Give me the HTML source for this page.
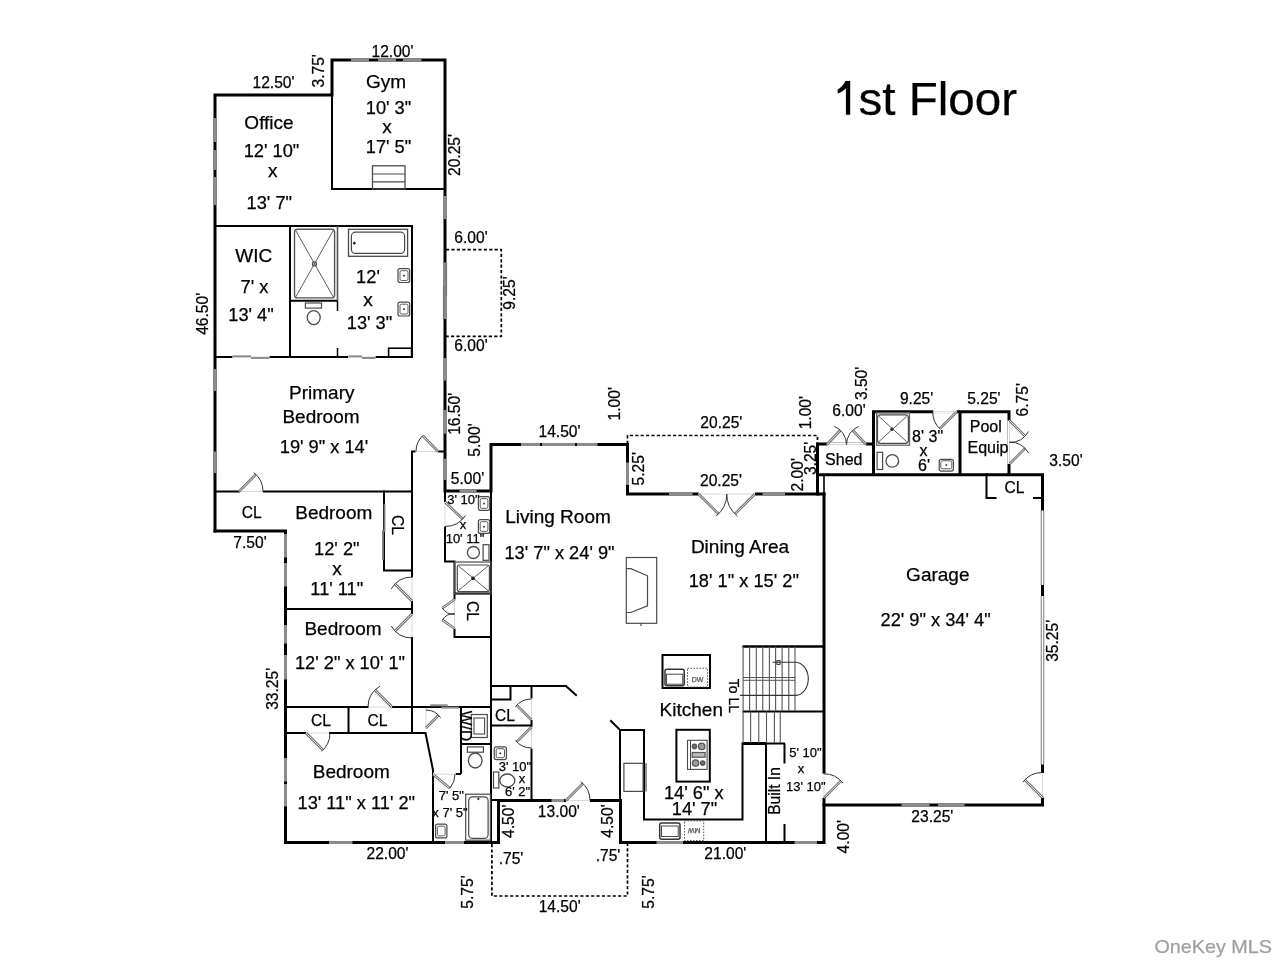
<!DOCTYPE html>
<html><head><meta charset="utf-8">
<style>
html,body{margin:0;padding:0;background:#fff;}
body{width:1280px;height:960px;overflow:hidden;}
svg{display:block;will-change:transform;filter:blur(0.3px);}
text{font-family:"Liberation Sans",sans-serif;stroke:currentColor;stroke-width:0.25px;}
</style></head>
<body>
<svg width="1280" height="960" viewBox="0 0 1280 960">
<rect width="1280" height="960" fill="#fff"/>
<path d="M850.2,81.1 H845.4 C843.5,85.5 840.5,87.8 837.7,89.4 V93.6 C840.6,92.4 843.6,90.6 845.9,88.4 V114.8 H850.2 Z" fill="#000" stroke="#000" stroke-width="0"/>
<polyline points="215,531 215,95 332,95 332,60 445,60 445,491 491,491 491,444.5 627.5,444.5 627.5,494 824,494" fill="none" stroke="#000" stroke-width="3" stroke-linecap="square" stroke-linejoin="miter"/>
<polyline points="215,531 285.5,531 285.5,842.5 498.5,842.5 498.5,800.5 620.5,800.5 620.5,842.5 824,842.5 824,494" fill="none" stroke="#000" stroke-width="3" stroke-linecap="square" stroke-linejoin="miter"/>
<polyline points="817.5,474.8 1042.5,474.8 1042.5,805 824,805" fill="none" stroke="#000" stroke-width="3" stroke-linecap="square" stroke-linejoin="miter"/>
<polyline points="817.5,494 817.5,444 873.5,444 873.5,411.8 1009,411.8 1009,474" fill="none" stroke="#000" stroke-width="3" stroke-linecap="square" stroke-linejoin="miter"/>
<polyline points="332,95 332,189 445,189" fill="none" stroke="#000" stroke-width="2" stroke-linecap="square" stroke-linejoin="miter"/>
<polyline points="215,226 412,226 412,357" fill="none" stroke="#000" stroke-width="2" stroke-linecap="square" stroke-linejoin="miter"/>
<line x1="290" y1="226" x2="290" y2="357" stroke="#000" stroke-width="2" stroke-linecap="butt"/>
<line x1="215" y1="357" x2="412" y2="357" stroke="#000" stroke-width="2" stroke-linecap="butt"/>
<line x1="337.5" y1="300.8" x2="337.5" y2="311" stroke="#000" stroke-width="1.5" stroke-linecap="butt"/>
<line x1="337.5" y1="348" x2="337.5" y2="357" stroke="#000" stroke-width="1.5" stroke-linecap="butt"/>
<line x1="215" y1="491.5" x2="412" y2="491.5" stroke="#000" stroke-width="2" stroke-linecap="butt"/>
<polyline points="415.5,451.5 412,451.5 412,733" fill="none" stroke="#000" stroke-width="2" stroke-linecap="square" stroke-linejoin="miter"/>
<line x1="438" y1="451.5" x2="445" y2="451.5" stroke="#000" stroke-width="2" stroke-linecap="butt"/>
<polyline points="384,491.5 384,570.5 412,570.5" fill="none" stroke="#000" stroke-width="2" stroke-linecap="square" stroke-linejoin="miter"/>
<line x1="285.5" y1="609" x2="412" y2="609" stroke="#000" stroke-width="2" stroke-linecap="butt"/>
<line x1="285.5" y1="707" x2="491" y2="707" stroke="#000" stroke-width="2" stroke-linecap="butt"/>
<line x1="348.5" y1="707" x2="348.5" y2="733" stroke="#000" stroke-width="2" stroke-linecap="butt"/>
<polyline points="285.5,733 425.5,733 433,770 433,842.5" fill="none" stroke="#000" stroke-width="2" stroke-linecap="square" stroke-linejoin="miter"/>
<line x1="461" y1="707" x2="461" y2="774" stroke="#000" stroke-width="2" stroke-linecap="butt"/>
<line x1="433" y1="774" x2="461" y2="774" stroke="#000" stroke-width="2" stroke-linecap="butt"/>
<line x1="461" y1="744" x2="491" y2="744" stroke="#000" stroke-width="2" stroke-linecap="butt"/>
<line x1="491" y1="491" x2="491" y2="842.5" stroke="#000" stroke-width="2" stroke-linecap="butt"/>
<polyline points="445,491 445,561.5 454.5,561.5 454.5,637 491,637" fill="none" stroke="#000" stroke-width="2" stroke-linecap="square" stroke-linejoin="miter"/>
<line x1="454.5" y1="593.5" x2="491" y2="593.5" stroke="#000" stroke-width="2" stroke-linecap="butt"/>
<polyline points="491,686 566,686 576,695" fill="none" stroke="#000" stroke-width="2" stroke-linecap="square" stroke-linejoin="miter"/>
<polyline points="491,699.5 510.5,699.5 510.5,686" fill="none" stroke="#000" stroke-width="2" stroke-linecap="square" stroke-linejoin="miter"/>
<line x1="531.5" y1="686" x2="531.5" y2="800" stroke="#000" stroke-width="2" stroke-linecap="butt"/>
<line x1="491" y1="725.5" x2="531.5" y2="725.5" stroke="#000" stroke-width="2" stroke-linecap="butt"/>
<line x1="491" y1="800" x2="498.5" y2="800" stroke="#000" stroke-width="2" stroke-linecap="butt"/>
<polyline points="611,721 620,730 644,730 644,819.5 742.5,819.5 742.5,743.5" fill="none" stroke="#000" stroke-width="2" stroke-linecap="square" stroke-linejoin="miter"/>
<line x1="620" y1="730" x2="620" y2="800.5" stroke="#000" stroke-width="2" stroke-linecap="butt"/>
<line x1="742.5" y1="646.5" x2="824" y2="646.5" stroke="#000" stroke-width="2.5" stroke-linecap="butt"/>
<line x1="742.5" y1="711.5" x2="824" y2="711.5" stroke="#000" stroke-width="2" stroke-linecap="butt"/>
<line x1="742.5" y1="743.5" x2="766" y2="743.5" stroke="#000" stroke-width="3" stroke-linecap="butt"/>
<line x1="766" y1="743.5" x2="785" y2="743.5" stroke="#000" stroke-width="2" stroke-linecap="butt"/>
<line x1="766" y1="743.5" x2="766" y2="842.5" stroke="#000" stroke-width="2" stroke-linecap="butt"/>
<line x1="784.5" y1="743.5" x2="784.5" y2="763.5" stroke="#000" stroke-width="2" stroke-linecap="butt"/>
<line x1="784.5" y1="824" x2="784.5" y2="842.5" stroke="#000" stroke-width="2" stroke-linecap="butt"/>
<line x1="873.5" y1="444" x2="873.5" y2="474" stroke="#000" stroke-width="3" stroke-linecap="butt"/>
<line x1="960" y1="411.8" x2="960" y2="474" stroke="#000" stroke-width="3" stroke-linecap="butt"/>
<line x1="824" y1="474" x2="824" y2="494" stroke="#000" stroke-width="1.6" stroke-linecap="butt"/>
<polyline points="995.5,498 986.5,498 986.5,474" fill="none" stroke="#000" stroke-width="2" stroke-linecap="square" stroke-linejoin="miter"/>
<line x1="1033" y1="498" x2="1042.5" y2="498" stroke="#000" stroke-width="2" stroke-linecap="butt"/>
<line x1="351" y1="60" x2="369" y2="60" stroke="#8c8c8c" stroke-width="3"/>
<line x1="378" y1="60" x2="396" y2="60" stroke="#8c8c8c" stroke-width="3"/>
<line x1="403" y1="60" x2="421.5" y2="60" stroke="#8c8c8c" stroke-width="3"/>
<line x1="215" y1="118" x2="215" y2="142" stroke="#8c8c8c" stroke-width="3"/>
<line x1="215" y1="150" x2="215" y2="170" stroke="#8c8c8c" stroke-width="3"/>
<line x1="215" y1="177" x2="215" y2="205" stroke="#8c8c8c" stroke-width="3"/>
<line x1="445" y1="196" x2="445" y2="219" stroke="#8c8c8c" stroke-width="3"/>
<line x1="445" y1="262.5" x2="445" y2="319" stroke="#8c8c8c" stroke-width="3"/>
<line x1="445" y1="358" x2="445" y2="380.6" stroke="#8c8c8c" stroke-width="3"/>
<line x1="445" y1="410" x2="445" y2="433.75" stroke="#8c8c8c" stroke-width="3"/>
<line x1="445" y1="458.75" x2="445" y2="480" stroke="#8c8c8c" stroke-width="3"/>
<line x1="215" y1="369" x2="215" y2="391" stroke="#8c8c8c" stroke-width="3"/>
<line x1="215" y1="451.5" x2="215" y2="473" stroke="#8c8c8c" stroke-width="3"/>
<line x1="459.5" y1="491" x2="476.5" y2="491" stroke="#8c8c8c" stroke-width="3"/>
<line x1="285.5" y1="534" x2="285.5" y2="557.5" stroke="#8c8c8c" stroke-width="3"/>
<line x1="285.5" y1="563" x2="285.5" y2="586.5" stroke="#8c8c8c" stroke-width="3"/>
<line x1="285.5" y1="625" x2="285.5" y2="643.5" stroke="#8c8c8c" stroke-width="3"/>
<line x1="285.5" y1="655" x2="285.5" y2="679.5" stroke="#8c8c8c" stroke-width="3"/>
<line x1="285.5" y1="758" x2="285.5" y2="781.5" stroke="#8c8c8c" stroke-width="3"/>
<line x1="285.5" y1="784" x2="285.5" y2="806.5" stroke="#8c8c8c" stroke-width="3"/>
<line x1="329" y1="842.5" x2="352.5" y2="842.5" stroke="#8c8c8c" stroke-width="3"/>
<line x1="445" y1="842.5" x2="464" y2="842.5" stroke="#8c8c8c" stroke-width="3"/>
<line x1="521" y1="444.5" x2="540" y2="444.5" stroke="#8c8c8c" stroke-width="3"/>
<line x1="542" y1="444.5" x2="575" y2="444.5" stroke="#8c8c8c" stroke-width="3"/>
<line x1="577" y1="444.5" x2="597.5" y2="444.5" stroke="#8c8c8c" stroke-width="3"/>
<line x1="627.5" y1="462.5" x2="627.5" y2="485" stroke="#8c8c8c" stroke-width="3"/>
<line x1="669" y1="494" x2="692.5" y2="494" stroke="#8c8c8c" stroke-width="3"/>
<line x1="762.5" y1="494" x2="785" y2="494" stroke="#8c8c8c" stroke-width="3"/>
<line x1="656.5" y1="842.5" x2="683" y2="842.5" stroke="#8c8c8c" stroke-width="3"/>
<line x1="551.5" y1="800.5" x2="564" y2="800.5" stroke="#8c8c8c" stroke-width="3"/>
<line x1="794.5" y1="842.5" x2="817" y2="842.5" stroke="#8c8c8c" stroke-width="3"/>
<line x1="901.5" y1="805" x2="929.5" y2="805" stroke="#8c8c8c" stroke-width="3"/>
<line x1="938" y1="805" x2="964.5" y2="805" stroke="#8c8c8c" stroke-width="3"/>
<polyline points="446,249.7 501.3,249.7 501.3,336.3 446,336.3" fill="none" stroke="#000" stroke-width="1.7" stroke-linecap="butt" stroke-linejoin="miter" stroke-dasharray="3.2,2.2"/>
<polyline points="627.5,444 627.5,435.5 817.5,435.5 817.5,444" fill="none" stroke="#000" stroke-width="1.7" stroke-linecap="butt" stroke-linejoin="miter" stroke-dasharray="3.2,2.2"/>
<polyline points="491.9,844 491.9,896 627.5,896 627.5,844" fill="none" stroke="#000" stroke-width="1.7" stroke-linecap="butt" stroke-linejoin="miter" stroke-dasharray="3.2,2.2"/>
<line x1="240" y1="491.5" x2="263" y2="491.5" stroke="#fff" stroke-width="3"/>
<line x1="240" y1="491.5" x2="263" y2="491.5" stroke="#d8d8d8" stroke-width="1"/>
<line x1="415.5" y1="451.5" x2="438" y2="451.5" stroke="#fff" stroke-width="3"/>
<line x1="415.5" y1="451.5" x2="438" y2="451.5" stroke="#d8d8d8" stroke-width="1"/>
<line x1="412" y1="577.5" x2="412" y2="601" stroke="#fff" stroke-width="3"/>
<line x1="412" y1="577.5" x2="412" y2="601" stroke="#d8d8d8" stroke-width="1"/>
<line x1="412" y1="614" x2="412" y2="637" stroke="#fff" stroke-width="3"/>
<line x1="412" y1="614" x2="412" y2="637" stroke="#d8d8d8" stroke-width="1"/>
<line x1="368.5" y1="707" x2="392" y2="707" stroke="#fff" stroke-width="3"/>
<line x1="368.5" y1="707" x2="392" y2="707" stroke="#d8d8d8" stroke-width="1"/>
<line x1="306" y1="733" x2="329" y2="733" stroke="#fff" stroke-width="3"/>
<line x1="306" y1="733" x2="329" y2="733" stroke="#d8d8d8" stroke-width="1"/>
<line x1="445" y1="502" x2="445" y2="526.5" stroke="#fff" stroke-width="3"/>
<line x1="445" y1="502" x2="445" y2="526.5" stroke="#d8d8d8" stroke-width="1"/>
<line x1="454.5" y1="599.5" x2="454.5" y2="628.5" stroke="#fff" stroke-width="3"/>
<line x1="454.5" y1="599.5" x2="454.5" y2="628.5" stroke="#d8d8d8" stroke-width="1"/>
<line x1="531.5" y1="698.5" x2="531.5" y2="720" stroke="#fff" stroke-width="3"/>
<line x1="531.5" y1="698.5" x2="531.5" y2="720" stroke="#d8d8d8" stroke-width="1"/>
<line x1="531.5" y1="727" x2="531.5" y2="748.5" stroke="#fff" stroke-width="3"/>
<line x1="531.5" y1="727" x2="531.5" y2="748.5" stroke="#d8d8d8" stroke-width="1"/>
<line x1="566" y1="800.5" x2="590" y2="800.5" stroke="#fff" stroke-width="4"/>
<line x1="566" y1="800.5" x2="590" y2="800.5" stroke="#d8d8d8" stroke-width="1"/>
<line x1="698.6" y1="494" x2="754.9" y2="494" stroke="#fff" stroke-width="4"/>
<line x1="698.6" y1="494" x2="754.9" y2="494" stroke="#d8d8d8" stroke-width="1"/>
<line x1="827" y1="444.5" x2="866" y2="444.5" stroke="#fff" stroke-width="4"/>
<line x1="827" y1="444.5" x2="866" y2="444.5" stroke="#d8d8d8" stroke-width="1"/>
<line x1="933.3" y1="411.8" x2="956.7" y2="411.8" stroke="#fff" stroke-width="4"/>
<line x1="933.3" y1="411.8" x2="956.7" y2="411.8" stroke="#d8d8d8" stroke-width="1"/>
<line x1="1009.5" y1="420.5" x2="1009.5" y2="464" stroke="#fff" stroke-width="4"/>
<line x1="1009.5" y1="420.5" x2="1009.5" y2="464" stroke="#d8d8d8" stroke-width="1"/>
<line x1="824" y1="773.7" x2="824" y2="797.8" stroke="#fff" stroke-width="4"/>
<line x1="824" y1="773.7" x2="824" y2="797.8" stroke="#d8d8d8" stroke-width="1"/>
<line x1="1042.5" y1="773" x2="1042.5" y2="797.5" stroke="#fff" stroke-width="4"/>
<line x1="1042.5" y1="773" x2="1042.5" y2="797.5" stroke="#d8d8d8" stroke-width="1"/>
<line x1="425.9" y1="708" x2="425.9" y2="728" stroke="#fff" stroke-width="3"/>
<line x1="425.9" y1="708" x2="425.9" y2="728" stroke="#d8d8d8" stroke-width="1"/>
<line x1="433" y1="774.2" x2="455.7" y2="774.2" stroke="#fff" stroke-width="3"/>
<line x1="433" y1="774.2" x2="455.7" y2="774.2" stroke="#d8d8d8" stroke-width="1"/>
<line x1="348" y1="357" x2="375.5" y2="357" stroke="#fff" stroke-width="3"/>
<line x1="348" y1="357" x2="375.5" y2="357" stroke="#d8d8d8" stroke-width="1"/>
<line x1="232.5" y1="357" x2="269.5" y2="357" stroke="#fff" stroke-width="3"/>
<line x1="232.5" y1="357" x2="269.5" y2="357" stroke="#d8d8d8" stroke-width="1"/>
<line x1="239" y1="491.5" x2="255.97" y2="474.53" stroke="#6a6a6a" stroke-width="2.6"/>
<line x1="239" y1="491.5" x2="255.97" y2="474.53" stroke="#f4f4f4" stroke-width="0.9"/>
<path d="M253.78,472.59 A24,24 0 0 1 263.00,491.50" fill="none" stroke="#333" stroke-width="1"/>
<line x1="438" y1="451.5" x2="422.72" y2="435.67" stroke="#6a6a6a" stroke-width="2.6"/>
<line x1="438" y1="451.5" x2="422.72" y2="435.67" stroke="#f4f4f4" stroke-width="0.9"/>
<path d="M422.72,435.67 A22,22 0 0 0 416.00,451.50" fill="none" stroke="#333" stroke-width="1"/>
<line x1="412" y1="601" x2="395.03" y2="584.03" stroke="#6a6a6a" stroke-width="2.6"/>
<line x1="412" y1="601" x2="395.03" y2="584.03" stroke="#f4f4f4" stroke-width="0.9"/>
<path d="M391.22,589.00 A24,24 0 0 1 412.00,577.00" fill="none" stroke="#333" stroke-width="1"/>
<line x1="412" y1="614" x2="395.03" y2="630.97" stroke="#6a6a6a" stroke-width="2.6"/>
<line x1="412" y1="614" x2="395.03" y2="630.97" stroke="#f4f4f4" stroke-width="0.9"/>
<path d="M391.22,626.00 A24,24 0 0 0 412.00,638.00" fill="none" stroke="#333" stroke-width="1"/>
<line x1="392" y1="707" x2="375.03" y2="690.03" stroke="#6a6a6a" stroke-width="2.6"/>
<line x1="392" y1="707" x2="375.03" y2="690.03" stroke="#f4f4f4" stroke-width="0.9"/>
<path d="M380.00,686.22 A24,24 0 0 0 368.00,707.00" fill="none" stroke="#333" stroke-width="1"/>
<line x1="306" y1="733" x2="322.97" y2="749.97" stroke="#6a6a6a" stroke-width="2.6"/>
<line x1="306" y1="733" x2="322.97" y2="749.97" stroke="#f4f4f4" stroke-width="0.9"/>
<path d="M321.43,751.39 A24,24 0 0 0 330.00,733.00" fill="none" stroke="#333" stroke-width="1"/>
<line x1="445" y1="502" x2="462.62" y2="519.02" stroke="#6a6a6a" stroke-width="2.6"/>
<line x1="445" y1="502" x2="462.62" y2="519.02" stroke="#f4f4f4" stroke-width="0.9"/>
<path d="M465.55,515.34 A24.5,24.5 0 0 1 445.00,526.50" fill="none" stroke="#333" stroke-width="1"/>
<line x1="454.5" y1="599.5" x2="442.21" y2="608.10" stroke="#6a6a6a" stroke-width="2.6"/>
<line x1="454.5" y1="599.5" x2="442.21" y2="608.10" stroke="#f4f4f4" stroke-width="0.9"/>
<path d="M442.21,608.10 A15,15 0 0 0 454.50,614.50" fill="none" stroke="#333" stroke-width="1"/>
<line x1="454.5" y1="628.5" x2="442.21" y2="619.90" stroke="#6a6a6a" stroke-width="2.6"/>
<line x1="454.5" y1="628.5" x2="442.21" y2="619.90" stroke="#f4f4f4" stroke-width="0.9"/>
<path d="M442.21,619.90 A15,15 0 0 1 454.50,613.50" fill="none" stroke="#333" stroke-width="1"/>
<line x1="531.5" y1="720" x2="516.65" y2="705.15" stroke="#6a6a6a" stroke-width="2.6"/>
<line x1="531.5" y1="720" x2="516.65" y2="705.15" stroke="#f4f4f4" stroke-width="0.9"/>
<path d="M515.41,706.50 A21,21 0 0 1 531.50,699.00" fill="none" stroke="#333" stroke-width="1"/>
<line x1="531.5" y1="727" x2="516.65" y2="741.85" stroke="#6a6a6a" stroke-width="2.6"/>
<line x1="531.5" y1="727" x2="516.65" y2="741.85" stroke="#f4f4f4" stroke-width="0.9"/>
<path d="M515.41,740.50 A21,21 0 0 0 531.50,748.00" fill="none" stroke="#333" stroke-width="1"/>
<line x1="566" y1="800.5" x2="582.97" y2="783.53" stroke="#6a6a6a" stroke-width="2.6"/>
<line x1="566" y1="800.5" x2="582.97" y2="783.53" stroke="#f4f4f4" stroke-width="0.9"/>
<path d="M580.78,781.59 A24,24 0 0 1 590.00,800.50" fill="none" stroke="#333" stroke-width="1"/>
<line x1="698.6" y1="494" x2="718.54" y2="513.94" stroke="#6a6a6a" stroke-width="2.6"/>
<line x1="698.6" y1="494" x2="718.54" y2="513.94" stroke="#f4f4f4" stroke-width="0.9"/>
<path d="M715.96,516.22 A28.2,28.2 0 0 0 726.80,494.00" fill="none" stroke="#333" stroke-width="1"/>
<line x1="754.9" y1="494" x2="734.96" y2="513.94" stroke="#6a6a6a" stroke-width="2.6"/>
<line x1="754.9" y1="494" x2="734.96" y2="513.94" stroke="#f4f4f4" stroke-width="0.9"/>
<path d="M737.54,516.22 A28.2,28.2 0 0 1 726.70,494.00" fill="none" stroke="#333" stroke-width="1"/>
<line x1="827" y1="444.5" x2="840.30" y2="430.24" stroke="#6a6a6a" stroke-width="2.6"/>
<line x1="827" y1="444.5" x2="840.30" y2="430.24" stroke="#f4f4f4" stroke-width="0.9"/>
<path d="M834.30,426.42 A19.5,19.5 0 0 1 846.50,444.50" fill="none" stroke="#333" stroke-width="1"/>
<line x1="866" y1="444.5" x2="852.70" y2="430.24" stroke="#6a6a6a" stroke-width="2.6"/>
<line x1="866" y1="444.5" x2="852.70" y2="430.24" stroke="#f4f4f4" stroke-width="0.9"/>
<path d="M858.70,426.42 A19.5,19.5 0 0 0 846.50,444.50" fill="none" stroke="#333" stroke-width="1"/>
<line x1="956.7" y1="411.8" x2="939.73" y2="428.77" stroke="#6a6a6a" stroke-width="2.6"/>
<line x1="956.7" y1="411.8" x2="939.73" y2="428.77" stroke="#f4f4f4" stroke-width="0.9"/>
<path d="M939.73,428.77 A24,24 0 0 1 932.70,411.80" fill="none" stroke="#333" stroke-width="1"/>
<line x1="1009.5" y1="420.5" x2="1025.06" y2="436.06" stroke="#6a6a6a" stroke-width="2.6"/>
<line x1="1009.5" y1="420.5" x2="1025.06" y2="436.06" stroke="#f4f4f4" stroke-width="0.9"/>
<path d="M1028.55,431.50 A22,22 0 0 1 1009.50,442.50" fill="none" stroke="#333" stroke-width="1"/>
<line x1="1009.5" y1="464" x2="1025.06" y2="448.44" stroke="#6a6a6a" stroke-width="2.6"/>
<line x1="1009.5" y1="464" x2="1025.06" y2="448.44" stroke="#f4f4f4" stroke-width="0.9"/>
<path d="M1028.55,453.00 A22,22 0 0 0 1009.50,442.00" fill="none" stroke="#333" stroke-width="1"/>
<line x1="824" y1="797.8" x2="840.97" y2="780.83" stroke="#6a6a6a" stroke-width="2.6"/>
<line x1="824" y1="797.8" x2="840.97" y2="780.83" stroke="#f4f4f4" stroke-width="0.9"/>
<path d="M842.91,783.02 A24,24 0 0 0 824.00,773.80" fill="none" stroke="#333" stroke-width="1"/>
<line x1="1042.5" y1="797.5" x2="1024.82" y2="779.82" stroke="#6a6a6a" stroke-width="2.6"/>
<line x1="1042.5" y1="797.5" x2="1024.82" y2="779.82" stroke="#f4f4f4" stroke-width="0.9"/>
<path d="M1022.80,782.11 A25,25 0 0 1 1042.50,772.50" fill="none" stroke="#333" stroke-width="1"/>
<line x1="425.9" y1="728" x2="438.63" y2="715.27" stroke="#6a6a6a" stroke-width="2.6"/>
<line x1="425.9" y1="728" x2="438.63" y2="715.27" stroke="#f4f4f4" stroke-width="0.9"/>
<path d="M440.64,717.68 A18,18 0 0 0 425.90,710.00" fill="none" stroke="#333" stroke-width="1"/>
<line x1="433" y1="774.2" x2="449.85" y2="788.34" stroke="#6a6a6a" stroke-width="2.6"/>
<line x1="433" y1="774.2" x2="449.85" y2="788.34" stroke="#f4f4f4" stroke-width="0.9"/>
<path d="M449.85,788.34 A22,22 0 0 0 455.00,774.20" fill="none" stroke="#333" stroke-width="1"/>
<rect x="372.5" y="165.8" width="32.5" height="23.2" rx="0" fill="none" stroke="#4a4a4a" stroke-width="1.3"/>
<line x1="372.5" y1="174" x2="405" y2="174" stroke="#4a4a4a" stroke-width="1.2" stroke-linecap="butt"/>
<line x1="372.5" y1="181.8" x2="405" y2="181.8" stroke="#4a4a4a" stroke-width="1.2" stroke-linecap="butt"/>
<line x1="446.3" y1="263" x2="446.3" y2="295.6" stroke="#777" stroke-width="1.6" stroke-linecap="butt"/>
<line x1="443.7" y1="286.4" x2="443.7" y2="319" stroke="#777" stroke-width="1.6" stroke-linecap="butt"/>
<line x1="290" y1="300.8" x2="337.5" y2="300.8" stroke="#000" stroke-width="2" stroke-linecap="butt"/>
<line x1="337.5" y1="226" x2="337.5" y2="300.8" stroke="#555" stroke-width="1.6" stroke-linecap="butt"/>
<rect x="294.5" y="229.3" width="40.1" height="68.6" rx="3" fill="none" stroke="#555" stroke-width="1.4"/>
<line x1="296" y1="231" x2="333" y2="296.5" stroke="#4a4a4a" stroke-width="0.9" stroke-linecap="butt"/>
<line x1="333" y1="231" x2="296" y2="296.5" stroke="#4a4a4a" stroke-width="0.9" stroke-linecap="butt"/>
<circle cx="314.5" cy="263.9" r="2" fill="none" stroke="#4a4a4a" stroke-width="1.2"/>
<rect x="305.4" y="303" width="16.1" height="5.1" rx="0" fill="none" stroke="#4a4a4a" stroke-width="1.2"/>
<ellipse cx="313.7" cy="317.6" rx="6.5" ry="7" fill="none" stroke="#4a4a4a" stroke-width="1.3"/>
<rect x="348.5" y="229.3" width="59.1" height="27" rx="0" fill="none" stroke="#4a4a4a" stroke-width="1.3"/>
<rect x="351.4" y="232.2" width="53.2" height="21.2" rx="4" fill="none" stroke="#4a4a4a" stroke-width="1.2"/>
<circle cx="354.3" cy="243.2" r="1" fill="#222" stroke="#222" stroke-width="1"/>
<rect x="398" y="268.7" width="11.7" height="13.8" rx="2" fill="none" stroke="#4a4a4a" stroke-width="1.2"/>
<rect x="400" y="270.7" width="8" height="9.8" rx="1.5" fill="none" stroke="#4a4a4a" stroke-width="0.9"/>
<circle cx="404" cy="275.7" r="0.6" fill="#222" stroke="#222" stroke-width="0.8"/>
<rect x="398" y="302.2" width="11.7" height="13.8" rx="2" fill="none" stroke="#4a4a4a" stroke-width="1.2"/>
<rect x="400" y="304.2" width="8" height="9.8" rx="1.5" fill="none" stroke="#4a4a4a" stroke-width="0.9"/>
<circle cx="404" cy="309.2" r="0.6" fill="#222" stroke="#222" stroke-width="0.8"/>
<rect x="388.6" y="348.2" width="23" height="9" rx="0" fill="none" stroke="#000" stroke-width="1.6"/>
<line x1="232.5" y1="356.3" x2="251" y2="356.3" stroke="#8c8c8c" stroke-width="2" stroke-linecap="butt"/>
<line x1="251" y1="358" x2="269.5" y2="358" stroke="#8c8c8c" stroke-width="2" stroke-linecap="butt"/>
<line x1="348.5" y1="356.3" x2="362" y2="356.3" stroke="#8c8c8c" stroke-width="2" stroke-linecap="butt"/>
<line x1="362" y1="358" x2="375.5" y2="358" stroke="#8c8c8c" stroke-width="2" stroke-linecap="butt"/>
<line x1="384.5" y1="503.8" x2="384.5" y2="532" stroke="#7a7a7a" stroke-width="1.8" stroke-linecap="butt"/>
<line x1="383" y1="530" x2="383" y2="560" stroke="#7a7a7a" stroke-width="1.8" stroke-linecap="butt"/>
<rect x="478.4" y="496.6" width="11.3" height="13.7" rx="2" fill="none" stroke="#4a4a4a" stroke-width="1.2"/>
<rect x="480.2" y="498.6" width="7.7" height="9.7" rx="1.5" fill="none" stroke="#4a4a4a" stroke-width="0.9"/>
<circle cx="484" cy="503.6" r="0.6" fill="#222" stroke="#222" stroke-width="0.8"/>
<rect x="478.4" y="519.7" width="11.3" height="13.7" rx="2" fill="none" stroke="#4a4a4a" stroke-width="1.2"/>
<rect x="480.2" y="521.7" width="7.7" height="9.7" rx="1.5" fill="none" stroke="#4a4a4a" stroke-width="0.9"/>
<circle cx="484" cy="526.7" r="0.6" fill="#222" stroke="#222" stroke-width="0.8"/>
<rect x="483.1" y="544.7" width="5.9" height="15.6" rx="0" fill="none" stroke="#4a4a4a" stroke-width="1.2"/>
<circle cx="473.4" cy="552.5" r="6" fill="none" stroke="#4a4a4a" stroke-width="1.3"/>
<rect x="454.5" y="562" width="36.5" height="31.9" rx="0" fill="none" stroke="#4a4a4a" stroke-width="1.2"/>
<rect x="457.3" y="565" width="32.1" height="26.6" rx="2" fill="none" stroke="#4a4a4a" stroke-width="1.2"/>
<line x1="458.5" y1="566" x2="488" y2="590.5" stroke="#4a4a4a" stroke-width="0.9" stroke-linecap="butt"/>
<line x1="488" y1="566" x2="458.5" y2="590.5" stroke="#4a4a4a" stroke-width="0.9" stroke-linecap="butt"/>
<circle cx="473" cy="578.3" r="1.4" fill="#222" stroke="#222" stroke-width="1"/>
<rect x="471.3" y="714.5" width="16" height="23" rx="0" fill="none" stroke="#4a4a4a" stroke-width="1.2"/>
<rect x="474" y="718" width="10.6" height="16" rx="0" fill="none" stroke="#4a4a4a" stroke-width="1.1"/>
<line x1="430.2" y1="705.3" x2="447.7" y2="705.3" stroke="#8c8c8c" stroke-width="2" stroke-linecap="butt"/>
<line x1="441.3" y1="707.6" x2="458.8" y2="707.6" stroke="#8c8c8c" stroke-width="2" stroke-linecap="butt"/>
<rect x="467.4" y="746.9" width="16" height="5.3" rx="0" fill="none" stroke="#4a4a4a" stroke-width="1.2"/>
<ellipse cx="475.2" cy="760.5" rx="6.8" ry="7.5" fill="none" stroke="#4a4a4a" stroke-width="1.3"/>
<rect x="465.7" y="794.2" width="24.7" height="46" rx="0" fill="none" stroke="#4a4a4a" stroke-width="1.2"/>
<rect x="468.7" y="796.8" width="19.4" height="41.6" rx="4" fill="none" stroke="#4a4a4a" stroke-width="1.2"/>
<circle cx="478.4" cy="798.9" r="0.8" fill="#222" stroke="#222" stroke-width="0.8"/>
<rect x="435.6" y="824.2" width="11.3" height="13.7" rx="2" fill="none" stroke="#4a4a4a" stroke-width="1.2"/>
<rect x="437.4" y="826.2" width="7.7" height="9.7" rx="1.5" fill="none" stroke="#4a4a4a" stroke-width="0.9"/>
<rect x="494.3" y="746.9" width="12.1" height="12.7" rx="2" fill="none" stroke="#4a4a4a" stroke-width="1.2"/>
<rect x="496.2" y="748.7" width="8.3" height="9" rx="1.5" fill="none" stroke="#4a4a4a" stroke-width="0.9"/>
<circle cx="500.3" cy="753.3" r="0.6" fill="#222" stroke="#222" stroke-width="0.8"/>
<rect x="493.5" y="772" width="5.3" height="16" rx="0" fill="none" stroke="#4a4a4a" stroke-width="1.2"/>
<ellipse cx="507.3" cy="780.5" rx="7.5" ry="6.5" fill="none" stroke="#4a4a4a" stroke-width="1.3"/>
<rect x="626.3" y="557.5" width="30.4" height="65.8" rx="0" fill="none" stroke="#4a4a4a" stroke-width="1.2"/>
<polyline points="626.3,568.7 630.8,568.7 647.5,575.8 647.5,605.8 630.8,612.5 626.3,612.5" fill="none" stroke="#4a4a4a" stroke-width="1.2" stroke-linecap="butt" stroke-linejoin="miter"/>
<line x1="641" y1="623" x2="641" y2="626" stroke="#4a4a4a" stroke-width="1.2" stroke-linecap="butt"/>
<rect x="662.5" y="655" width="47.5" height="33" rx="0" fill="none" stroke="#000" stroke-width="2"/>
<rect x="665" y="669.2" width="19.2" height="16.6" rx="2" fill="none" stroke="#333" stroke-width="1.5"/>
<rect x="666.5" y="674.2" width="16.2" height="10" rx="0" fill="none" stroke="#4a4a4a" stroke-width="1"/>
<rect x="687.5" y="668.3" width="20" height="18.7" rx="0" fill="none" stroke="#555" stroke-width="1" stroke-dasharray="1.5,1.5"/>
<rect x="676.4" y="729.8" width="33.4" height="51.8" rx="0" fill="none" stroke="#000" stroke-width="2"/>
<rect x="687.5" y="740.3" width="19.6" height="29.1" rx="0" fill="none" stroke="#4a4a4a" stroke-width="1.1"/>
<line x1="690.5" y1="740.3" x2="690.5" y2="769.4" stroke="#4a4a4a" stroke-width="1" stroke-linecap="butt"/>
<circle cx="694.5" cy="746.4" r="2" fill="#777" stroke="#555" stroke-width="1.6"/>
<circle cx="701.7" cy="746.4" r="3.2" fill="#999" stroke="#555" stroke-width="1.3"/>
<rect x="692.2" y="752.5" width="12.9" height="4.7" rx="0" fill="#bbb" stroke="#555" stroke-width="1.2"/>
<circle cx="695.6" cy="763.1" r="3.2" fill="#999" stroke="#555" stroke-width="1.3"/>
<circle cx="702.7" cy="763.1" r="2" fill="#777" stroke="#555" stroke-width="1.6"/>
<rect x="623.9" y="763.3" width="19.2" height="28.1" rx="0" fill="none" stroke="#4a4a4a" stroke-width="1.2"/>
<line x1="646" y1="763.3" x2="646" y2="791.4" stroke="#4a4a4a" stroke-width="1.2" stroke-linecap="butt"/>
<rect x="659.7" y="822.9" width="20.3" height="16.3" rx="2" fill="none" stroke="#333" stroke-width="1.5"/>
<rect x="661.5" y="826" width="16.7" height="10.5" rx="0" fill="none" stroke="#4a4a4a" stroke-width="1"/>
<rect x="684.5" y="820.9" width="19.2" height="19.6" rx="0" fill="none" stroke="#555" stroke-width="1" stroke-dasharray="1.5,1.5"/>
<line x1="743.1" y1="646.5" x2="743.1" y2="710.6" stroke="#555" stroke-width="1.1" stroke-linecap="butt"/>
<line x1="749.6" y1="646.5" x2="749.6" y2="710.6" stroke="#555" stroke-width="1.1" stroke-linecap="butt"/>
<line x1="756.3" y1="646.5" x2="756.3" y2="710.6" stroke="#555" stroke-width="1.1" stroke-linecap="butt"/>
<line x1="762.75" y1="646.5" x2="762.75" y2="710.6" stroke="#555" stroke-width="1.1" stroke-linecap="butt"/>
<line x1="769.4" y1="646.5" x2="769.4" y2="710.6" stroke="#555" stroke-width="1.1" stroke-linecap="butt"/>
<line x1="775.6" y1="646.5" x2="775.6" y2="710.6" stroke="#555" stroke-width="1.1" stroke-linecap="butt"/>
<line x1="782.1" y1="646.5" x2="782.1" y2="710.6" stroke="#555" stroke-width="1.1" stroke-linecap="butt"/>
<line x1="788.75" y1="646.5" x2="788.75" y2="710.6" stroke="#555" stroke-width="1.1" stroke-linecap="butt"/>
<line x1="795" y1="646.5" x2="795" y2="710.6" stroke="#555" stroke-width="1.1" stroke-linecap="butt"/>
<line x1="743" y1="677.5" x2="795" y2="677.5" stroke="#555" stroke-width="1" stroke-linecap="butt"/>
<line x1="743" y1="680.3" x2="795" y2="680.3" stroke="#555" stroke-width="1" stroke-linecap="butt"/>
<line x1="743.1" y1="711.5" x2="743.1" y2="743" stroke="#555" stroke-width="1.1" stroke-linecap="butt"/>
<line x1="750.6" y1="711.5" x2="750.6" y2="743" stroke="#555" stroke-width="1.1" stroke-linecap="butt"/>
<line x1="758.75" y1="711.5" x2="758.75" y2="743" stroke="#555" stroke-width="1.1" stroke-linecap="butt"/>
<line x1="766.5" y1="711.5" x2="766.5" y2="743" stroke="#555" stroke-width="1.1" stroke-linecap="butt"/>
<line x1="774.4" y1="711.5" x2="774.4" y2="743" stroke="#555" stroke-width="1.1" stroke-linecap="butt"/>
<line x1="780.25" y1="711.5" x2="780.25" y2="743" stroke="#555" stroke-width="1.1" stroke-linecap="butt"/>
<path d="M740,695.4 H796 A13,16.6 0 0 0 796,662.25 H772.5" fill="none" stroke="#333" stroke-width="1.1"/>
<rect x="776.9" y="660.6" width="3.1" height="3.8" rx="0" fill="none" stroke="#333" stroke-width="1"/>
<rect x="876.7" y="412.8" width="32.8" height="32.4" rx="0" fill="none" stroke="#666" stroke-width="1.3"/>
<rect x="877.5" y="414.8" width="30.9" height="28.5" rx="3" fill="none" stroke="#4a4a4a" stroke-width="1.2"/>
<line x1="879" y1="416.5" x2="906.5" y2="441.5" stroke="#4a4a4a" stroke-width="0.9" stroke-linecap="butt"/>
<line x1="906.5" y1="416.5" x2="879" y2="441.5" stroke="#4a4a4a" stroke-width="0.9" stroke-linecap="butt"/>
<circle cx="892" cy="429.2" r="1.3" fill="#333" stroke="#333" stroke-width="1"/>
<rect x="877.1" y="452.3" width="5.5" height="17.2" rx="0" fill="none" stroke="#4a4a4a" stroke-width="1.2"/>
<circle cx="892.3" cy="460.9" r="6.3" fill="none" stroke="#4a4a4a" stroke-width="1.3"/>
<rect x="939.2" y="459.4" width="14.2" height="11.7" rx="2" fill="none" stroke="#4a4a4a" stroke-width="1.2"/>
<rect x="940.8" y="460.8" width="11" height="8" rx="1.5" fill="none" stroke="#4a4a4a" stroke-width="0.9"/>
<circle cx="946.3" cy="465" r="0.6" fill="#222" stroke="#222" stroke-width="0.8"/>
<line x1="1042.5" y1="510.5" x2="1042.5" y2="585" stroke="#888" stroke-width="3.6"/>
<line x1="1042.5" y1="510.5" x2="1042.5" y2="585" stroke="#fff" stroke-width="1.4"/>
<line x1="1042.5" y1="596" x2="1042.5" y2="764.4" stroke="#888" stroke-width="3.6"/>
<line x1="1042.5" y1="596" x2="1042.5" y2="764.4" stroke="#fff" stroke-width="1.4"/>
<text x="858.5" y="115" font-size="47" text-anchor="start" fill="#000" color="#000" textLength="158.58" lengthAdjust="spacingAndGlyphs">st Floor</text>
<text x="1154.5" y="953" font-size="18.5" fill="#a0a0a0" color="#a0a0a0" textLength="117.5" lengthAdjust="spacingAndGlyphs">OneKey MLS</text>
<text x="273.5" y="87.5" font-size="15.6" text-anchor="middle" fill="#000" color="#000">12.50'</text>
<text x="324.16" y="70.8" font-size="15.6" text-anchor="middle" fill="#000" color="#000" transform="rotate(-90 324.16 70.8)">3.75'</text>
<text x="392.5" y="57" font-size="15.6" text-anchor="middle" fill="#000" color="#000">12.00'</text>
<text x="386" y="88" font-size="19" text-anchor="middle" fill="#000" color="#000">Gym</text>
<text x="388.5" y="113.5" font-size="19" text-anchor="middle" fill="#000" color="#000" textLength="45.46" lengthAdjust="spacingAndGlyphs">10' 3&quot;</text>
<text x="387" y="133" font-size="19" text-anchor="middle" fill="#000" color="#000">x</text>
<text x="388.5" y="152.5" font-size="19" text-anchor="middle" fill="#000" color="#000" textLength="45.46" lengthAdjust="spacingAndGlyphs">17' 5&quot;</text>
<text x="460.46" y="155" font-size="15.6" text-anchor="middle" fill="#000" color="#000" transform="rotate(-90 460.46 155)">20.25'</text>
<text x="269" y="129" font-size="19" text-anchor="middle" fill="#000" color="#000">Office</text>
<text x="271.5" y="156.8" font-size="19" text-anchor="middle" fill="#000" color="#000" textLength="55.6" lengthAdjust="spacingAndGlyphs">12' 10&quot;</text>
<text x="272.8" y="177.4" font-size="19" text-anchor="middle" fill="#000" color="#000">x</text>
<text x="269.3" y="208.7" font-size="19" text-anchor="middle" fill="#000" color="#000" textLength="45.46" lengthAdjust="spacingAndGlyphs">13' 7&quot;</text>
<text x="253.8" y="261.5" font-size="19" text-anchor="middle" fill="#000" color="#000">WIC</text>
<text x="254.5" y="292.5" font-size="19" text-anchor="middle" fill="#000" color="#000" textLength="27.81" lengthAdjust="spacingAndGlyphs">7' x</text>
<text x="251" y="320.5" font-size="19" text-anchor="middle" fill="#000" color="#000" textLength="45.46" lengthAdjust="spacingAndGlyphs">13' 4&quot;</text>
<text x="368" y="282.5" font-size="19" text-anchor="middle" fill="#000" color="#000" textLength="23.77" lengthAdjust="spacingAndGlyphs">12'</text>
<text x="368" y="305.5" font-size="19" text-anchor="middle" fill="#000" color="#000">x</text>
<text x="369.5" y="329" font-size="19" text-anchor="middle" fill="#000" color="#000" textLength="45.46" lengthAdjust="spacingAndGlyphs">13' 3&quot;</text>
<text x="207.96" y="313.8" font-size="15.6" text-anchor="middle" fill="#000" color="#000" transform="rotate(-90 207.96 313.8)">46.50'</text>
<text x="471" y="242.5" font-size="15.6" text-anchor="middle" fill="#000" color="#000">6.00'</text>
<text x="471" y="351" font-size="15.6" text-anchor="middle" fill="#000" color="#000">6.00'</text>
<text x="515.46" y="293" font-size="15.6" text-anchor="middle" fill="#000" color="#000" transform="rotate(-90 515.46 293)">9.25'</text>
<text x="321.8" y="398.5" font-size="19" text-anchor="middle" fill="#000" color="#000">Primary</text>
<text x="321" y="423" font-size="19" text-anchor="middle" fill="#000" color="#000">Bedroom</text>
<text x="324" y="452.5" font-size="19" text-anchor="middle" fill="#000" color="#000" textLength="88.48" lengthAdjust="spacingAndGlyphs">19' 9&quot; x 14'</text>
<text x="460.46" y="413.8" font-size="15.6" text-anchor="middle" fill="#000" color="#000" transform="rotate(-90 460.46 413.8)">16.50'</text>
<text x="480.46" y="440" font-size="15.6" text-anchor="middle" fill="#000" color="#000" transform="rotate(-90 480.46 440)">5.00'</text>
<text x="467.5" y="483.5" font-size="15.6" text-anchor="middle" fill="#000" color="#000">5.00'</text>
<text x="251.8" y="518" font-size="15.6" text-anchor="middle" fill="#000" color="#000">CL</text>
<text x="250" y="547.5" font-size="15.6" text-anchor="middle" fill="#000" color="#000">7.50'</text>
<text x="333.8" y="519" font-size="19" text-anchor="middle" fill="#000" color="#000">Bedroom</text>
<text x="336.8" y="555" font-size="19" text-anchor="middle" fill="#000" color="#000" textLength="45.46" lengthAdjust="spacingAndGlyphs">12' 2&quot;</text>
<text x="337" y="575" font-size="19" text-anchor="middle" fill="#000" color="#000">x</text>
<text x="336.8" y="595" font-size="19" text-anchor="middle" fill="#000" color="#000" textLength="52.9" lengthAdjust="spacingAndGlyphs">11' 11&quot;</text>
<text x="392.04" y="525" font-size="15.6" text-anchor="middle" fill="#000" color="#000" transform="rotate(90 392.04 525)">CL</text>
<text x="343" y="634.5" font-size="19" text-anchor="middle" fill="#000" color="#000">Bedroom</text>
<text x="350" y="669" font-size="19" text-anchor="middle" fill="#000" color="#000" textLength="110.17" lengthAdjust="spacingAndGlyphs">12' 2&quot; x 10' 1&quot;</text>
<text x="463.5" y="504" font-size="13" text-anchor="middle" fill="#000" color="#000">3' 10&quot;</text>
<text x="463" y="529" font-size="13" text-anchor="middle" fill="#000" color="#000">x</text>
<text x="465" y="542.5" font-size="13" text-anchor="middle" fill="#000" color="#000">10' 11&quot;</text>
<text x="466.84" y="611" font-size="15.6" text-anchor="middle" fill="#000" color="#000" transform="rotate(90 466.84 611)">CL</text>
<text x="321" y="725.5" font-size="15.6" text-anchor="middle" fill="#000" color="#000">CL</text>
<text x="377.5" y="725.5" font-size="15.6" text-anchor="middle" fill="#000" color="#000">CL</text>
<text x="277.96" y="688.8" font-size="15.6" text-anchor="middle" fill="#000" color="#000" transform="rotate(-90 277.96 688.8)">33.25'</text>
<text x="459.54" y="726" font-size="15.6" text-anchor="middle" fill="#000" color="#000" transform="rotate(90 459.54 726)">W/D</text>
<text x="351.3" y="777.8" font-size="19" text-anchor="middle" fill="#000" color="#000">Bedroom</text>
<text x="356.3" y="809" font-size="19" text-anchor="middle" fill="#000" color="#000" textLength="117.61" lengthAdjust="spacingAndGlyphs">13' 11&quot; x 11' 2&quot;</text>
<text x="451.3" y="800" font-size="13" text-anchor="middle" fill="#000" color="#000">7' 5&quot;</text>
<text x="450" y="817" font-size="13" text-anchor="middle" fill="#000" color="#000">x 7' 5&quot;</text>
<text x="387.5" y="859" font-size="15.6" text-anchor="middle" fill="#000" color="#000">22.00'</text>
<text x="473.46" y="892" font-size="15.6" text-anchor="middle" fill="#000" color="#000" transform="rotate(-90 473.46 892)">5.75'</text>
<text x="559.5" y="437" font-size="15.6" text-anchor="middle" fill="#000" color="#000">14.50'</text>
<text x="619.76" y="403.8" font-size="15.6" text-anchor="middle" fill="#000" color="#000" transform="rotate(-90 619.76 403.8)">1.00'</text>
<text x="721.3" y="427.5" font-size="15.6" text-anchor="middle" fill="#000" color="#000">20.25'</text>
<text x="721" y="486" font-size="15.6" text-anchor="middle" fill="#000" color="#000">20.25'</text>
<text x="643.76" y="468.8" font-size="15.6" text-anchor="middle" fill="#000" color="#000" transform="rotate(-90 643.76 468.8)">5.25'</text>
<text x="558" y="522.8" font-size="19" text-anchor="middle" fill="#000" color="#000">Living Room</text>
<text x="559.5" y="559" font-size="19" text-anchor="middle" fill="#000" color="#000" textLength="110.17" lengthAdjust="spacingAndGlyphs">13' 7&quot; x 24' 9&quot;</text>
<text x="740" y="552.8" font-size="19" text-anchor="middle" fill="#000" color="#000">Dining Area</text>
<text x="743.8" y="586.5" font-size="19" text-anchor="middle" fill="#000" color="#000" textLength="110.17" lengthAdjust="spacingAndGlyphs">18' 1&quot; x 15' 2&quot;</text>
<text x="505" y="721" font-size="15.6" text-anchor="middle" fill="#000" color="#000">CL</text>
<text x="515" y="770.5" font-size="13" text-anchor="middle" fill="#000" color="#000">3' 10&quot;</text>
<text x="522" y="783" font-size="13" text-anchor="middle" fill="#000" color="#000">x</text>
<text x="517.5" y="795.5" font-size="13" text-anchor="middle" fill="#000" color="#000">6' 2&quot;</text>
<text x="691.3" y="715.8" font-size="19" text-anchor="middle" fill="#000" color="#000">Kitchen</text>
<text x="693.8" y="799" font-size="19" text-anchor="middle" fill="#000" color="#000" textLength="59.65" lengthAdjust="spacingAndGlyphs">14' 6&quot; x</text>
<text x="694.5" y="814.5" font-size="19" text-anchor="middle" fill="#000" color="#000" textLength="45.46" lengthAdjust="spacingAndGlyphs">14' 7&quot;</text>
<text x="728.7" y="696" font-size="14" text-anchor="middle" fill="#000" color="#000" transform="rotate(90 728.7 696)">To LL</text>
<text x="780.46" y="791" font-size="15.6" text-anchor="middle" fill="#000" color="#000" transform="rotate(-90 780.46 791)">Built In</text>
<text x="805.4" y="756.5" font-size="13" text-anchor="middle" fill="#000" color="#000">5' 10&quot;</text>
<text x="801" y="773" font-size="13" text-anchor="middle" fill="#000" color="#000">x</text>
<text x="805.8" y="790.5" font-size="13" text-anchor="middle" fill="#000" color="#000">13' 10&quot;</text>
<text x="558.8" y="816.5" font-size="15.6" text-anchor="middle" fill="#000" color="#000">13.00'</text>
<text x="514.26" y="821.3" font-size="15.6" text-anchor="middle" fill="#000" color="#000" transform="rotate(-90 514.26 821.3)">4.50'</text>
<text x="612.96" y="821" font-size="15.6" text-anchor="middle" fill="#000" color="#000" transform="rotate(-90 612.96 821)">4.50'</text>
<text x="511" y="863.5" font-size="15.6" text-anchor="middle" fill="#000" color="#000">.75'</text>
<text x="608" y="861" font-size="15.6" text-anchor="middle" fill="#000" color="#000">.75'</text>
<text x="559.7" y="912" font-size="15.6" text-anchor="middle" fill="#000" color="#000">14.50'</text>
<text x="653.96" y="892" font-size="15.6" text-anchor="middle" fill="#000" color="#000" transform="rotate(-90 653.96 892)">5.75'</text>
<text x="725.3" y="859" font-size="15.6" text-anchor="middle" fill="#000" color="#000">21.00'</text>
<text x="849" y="415.5" font-size="15.6" text-anchor="middle" fill="#000" color="#000">6.00'</text>
<text x="867.46" y="383.4" font-size="15.6" text-anchor="middle" fill="#000" color="#000" transform="rotate(-90 867.46 383.4)">3.50'</text>
<text x="811.26" y="412.7" font-size="15.6" text-anchor="middle" fill="#000" color="#000" transform="rotate(-90 811.26 412.7)">1.00'</text>
<text x="916.6" y="404" font-size="15.6" text-anchor="middle" fill="#000" color="#000">9.25'</text>
<text x="983.9" y="404" font-size="15.6" text-anchor="middle" fill="#000" color="#000">5.25'</text>
<text x="1028.26" y="399.8" font-size="15.6" text-anchor="middle" fill="#000" color="#000" transform="rotate(-90 1028.26 399.8)">6.75'</text>
<text x="815.96" y="458.4" font-size="15.6" text-anchor="middle" fill="#000" color="#000" transform="rotate(-90 815.96 458.4)">3.25'</text>
<text x="803.06" y="474.8" font-size="15.6" text-anchor="middle" fill="#000" color="#000" transform="rotate(-90 803.06 474.8)">2.00'</text>
<text x="1066" y="466" font-size="15.6" text-anchor="middle" fill="#000" color="#000">3.50'</text>
<text x="843.8" y="464.5" font-size="16" text-anchor="middle" fill="#000" color="#000">Shed</text>
<text x="927.6" y="442" font-size="16" text-anchor="middle" fill="#000" color="#000">8' 3&quot;</text>
<text x="923.4" y="456" font-size="16" text-anchor="middle" fill="#000" color="#000">x</text>
<text x="924" y="471" font-size="16" text-anchor="middle" fill="#000" color="#000">6'</text>
<text x="985.8" y="432" font-size="16" text-anchor="middle" fill="#000" color="#000">Pool</text>
<text x="988" y="453" font-size="16" text-anchor="middle" fill="#000" color="#000">Equip</text>
<text x="1014.4" y="493" font-size="15.6" text-anchor="middle" fill="#000" color="#000">CL</text>
<text x="937.8" y="580.7" font-size="19" text-anchor="middle" fill="#000" color="#000">Garage</text>
<text x="935.6" y="625.5" font-size="19" text-anchor="middle" fill="#000" color="#000" textLength="110.17" lengthAdjust="spacingAndGlyphs">22' 9&quot; x 34' 4&quot;</text>
<text x="1058.16" y="640.8" font-size="15.6" text-anchor="middle" fill="#000" color="#000" transform="rotate(-90 1058.16 640.8)">35.25'</text>
<text x="932.3" y="821.5" font-size="15.6" text-anchor="middle" fill="#000" color="#000">23.25'</text>
<text x="849.16" y="836.7" font-size="15.6" text-anchor="middle" fill="#000" color="#000" transform="rotate(-90 849.16 836.7)">4.00'</text>
<text x="697.5" y="682" font-size="7" text-anchor="middle" fill="#555" color="#555">DW</text>
<text x="694" y="828" font-size="7" text-anchor="middle" fill="#555" color="#555" transform="rotate(180 694 828)">MW</text>
</svg>
</body></html>
